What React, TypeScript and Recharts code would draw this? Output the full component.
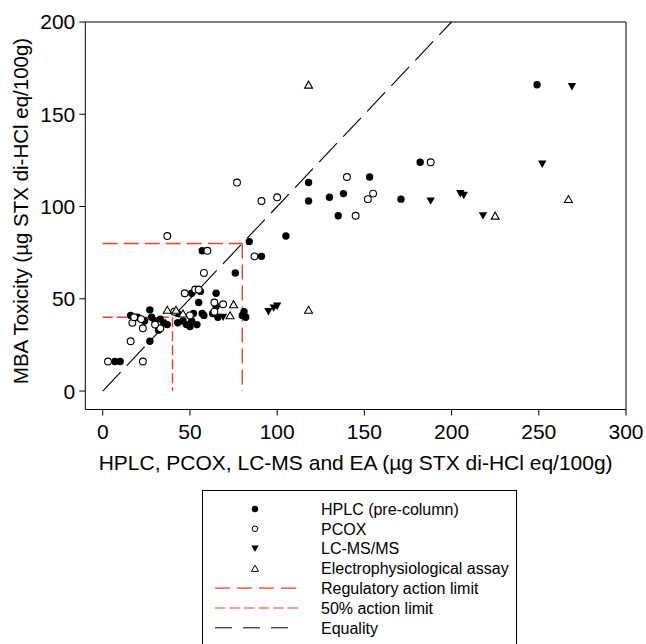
import React from 'react';
import { ScatterChart, Scatter, XAxis, YAxis, ReferenceLine } from 'recharts';

// ---- data ----
const hplcPreColumn = [
  { x: 7, y: 16 }, { x: 10, y: 16 }, { x: 27, y: 27 }, { x: 16, y: 41 }, { x: 20, y: 40 },
  { x: 27, y: 44 }, { x: 24, y: 38 }, { x: 28, y: 40 }, { x: 30, y: 38 }, { x: 33, y: 39 },
  { x: 35, y: 37 }, { x: 32, y: 33 }, { x: 37, y: 36 }, { x: 43, y: 42 }, { x: 43, y: 37 },
  { x: 46, y: 38 }, { x: 48, y: 36 }, { x: 50, y: 35 }, { x: 51, y: 38 }, { x: 52, y: 42 },
  { x: 51, y: 53 }, { x: 54, y: 36 }, { x: 55, y: 48 }, { x: 56, y: 54 }, { x: 57, y: 76 },
  { x: 57, y: 42 }, { x: 58, y: 41 }, { x: 65, y: 53 }, { x: 65, y: 46 }, { x: 63, y: 42 },
  { x: 66, y: 40 }, { x: 76, y: 64 }, { x: 81, y: 43 }, { x: 82, y: 40 }, { x: 80, y: 41 },
  { x: 84, y: 81 }, { x: 91, y: 73 }, { x: 105, y: 84 }, { x: 118, y: 113 }, { x: 118, y: 103 },
  { x: 130, y: 105 }, { x: 138, y: 107 }, { x: 135, y: 95 }, { x: 153, y: 116 }, { x: 171, y: 104 },
  { x: 182, y: 124 }, { x: 249, y: 166 },
];
const pcox = [
  { x: 3, y: 16 }, { x: 23, y: 16 }, { x: 16, y: 27 }, { x: 23, y: 34 }, { x: 33, y: 34 },
  { x: 17, y: 37 }, { x: 18, y: 40 }, { x: 22, y: 39 }, { x: 30, y: 36 }, { x: 41, y: 43 },
  { x: 47, y: 53 }, { x: 50, y: 41 }, { x: 53, y: 55 }, { x: 55, y: 55 }, { x: 58, y: 64 },
  { x: 60, y: 76 }, { x: 37, y: 84 }, { x: 64, y: 48 }, { x: 64, y: 43 }, { x: 69, y: 47 },
  { x: 77, y: 113 }, { x: 87, y: 73 }, { x: 91, y: 103 }, { x: 100, y: 105 }, { x: 140, y: 116 },
  { x: 152, y: 104 }, { x: 155, y: 107 }, { x: 145, y: 95 }, { x: 188, y: 124 },
];
const lcmsms = [
  { x: 69, y: 40 }, { x: 95, y: 43 }, { x: 98, y: 45 }, { x: 100, y: 46 }, { x: 188, y: 103 },
  { x: 205, y: 107 }, { x: 207, y: 106 }, { x: 218, y: 95 }, { x: 252, y: 123 }, { x: 269, y: 165 },
];
const electroAssay = [
  { x: 37, y: 44 }, { x: 42, y: 44 }, { x: 46, y: 42 }, { x: 73, y: 41 }, { x: 75, y: 47 },
  { x: 118, y: 44 }, { x: 118, y: 166 }, { x: 225, y: 95 }, { x: 267, y: 104 },
];
const equalityLine = [{ x: 0, y: 0 }, { x: 200, y: 200 }];
const regulatoryLimitH = [{ x: 0, y: 80 }, { x: 80, y: 80 }];
const regulatoryLimitV = [{ x: 80, y: 80 }, { x: 80, y: 0 }];
const halfLimitH = [{ x: 0, y: 40 }, { x: 40, y: 40 }];
const halfLimitV = [{ x: 40, y: 40 }, { x: 40, y: 0 }];
const xTicks = [0, 50, 100, 150, 200, 250, 300];
const yTicks = [0, 50, 100, 150, 200];
const legendLabels = [
  'HPLC (pre-column)', 'PCOX', 'LC-MS/MS', 'Electrophysiological assay',
  'Regulatory action limit', '50% action limit', 'Equality',
];

const FONT = '"Liberation Sans", Arial, Helvetica, sans-serif';
const RED = '#e8412f';

const FilledCircle = (p: any) => <circle cx={p.cx} cy={p.cy} r={3.7} fill="#000" />;
const OpenCircle = (p: any) => (
  <circle cx={p.cx} cy={p.cy} r={3.4} fill="#fff" stroke="#000" strokeWidth={1.1} />
);
const TriDown = (p: any) => (
  <path d={`M${p.cx - 4.2},${p.cy - 3.6}L${p.cx + 4.2},${p.cy - 3.6}L${p.cx},${p.cy + 3.8}Z`} fill="#000" />
);
const TriUp = (p: any) => (
  <path d={`M${p.cx - 4},${p.cy + 3.4}L${p.cx + 4},${p.cy + 3.4}L${p.cx},${p.cy - 3.6}Z`} fill="#fff" stroke="#000" strokeWidth={1.1} />
);

const Legend = () => {
  const rowY = (i: number) => 19 + i * 19.8;
  const sx = 53;
  return (
    <div style={{ position: 'absolute', left: 194, top: 482, width: 315, height: 160, border: '1px solid #000', boxSizing: 'border-box', background: '#fff', overflow: 'hidden' }}>
      <svg width={315} height={160} style={{ position: 'absolute', left: -1, top: -1 }}>
        <circle cx={sx} cy={rowY(0)} r={3.2} fill="#000" />
        <circle cx={sx} cy={rowY(1)} r={2.8} fill="#fff" stroke="#000" strokeWidth={1} />
        <path d={`M${sx - 3.6},${rowY(2) - 3}L${sx + 3.6},${rowY(2) - 3}L${sx},${rowY(2) + 3.4}Z`} fill="#000" />
        <path d={`M${sx - 3.6},${rowY(3) + 3}L${sx + 3.6},${rowY(3) + 3}L${sx},${rowY(3) - 3.2}Z`} fill="#fff" stroke="#000" strokeWidth={1} />
        <line x1={13} x2={95} y1={rowY(4)} y2={rowY(4)} stroke={RED} strokeWidth={1.2} strokeDasharray="15 7" />
        <line x1={13} x2={99} y1={rowY(5)} y2={rowY(5)} stroke={RED} strokeWidth={1.2} strokeDasharray="10.5 4" />
        <line x1={13} x2={92} y1={rowY(6)} y2={rowY(6)} stroke="#000" strokeWidth={1} strokeDasharray="17 11" />
        {legendLabels.map((t, i) => (
          <text key={t} x={119} y={rowY(i)} dy="0.36em" fontSize={16} fontFamily={FONT} fill="#000">{t}</text>
        ))}
      </svg>
    </div>
  );
};

export default function App() {
  return (
    <div style={{ position: 'absolute', left: 8, top: 8, width: 638, height: 636, overflow: 'hidden', fontFamily: FONT }}>
      <ScatterChart width={638} height={470} margin={{ top: 14, right: 20, left: 17.3, bottom: 3.5 }} style={{ overflow: 'visible' }}>
        <XAxis
          type="number" dataKey="x" domain={[-10, 300]} ticks={xTicks} allowDataOverflow
          height={65} tickSize={6} tickMargin={9}
          tick={{ fontSize: 21, fill: '#000', fontFamily: FONT }}
          axisLine={{ stroke: '#000', strokeWidth: 1 }} tickLine={{ stroke: '#000' }}
          label={{ value: 'HPLC, PCOX, LC-MS and EA (µg STX di-HCl eq/100g)', position: 'insideBottom', offset: 5, style: { fontSize: 21, fill: '#000', fontFamily: FONT } }}
        />
        <YAxis
          type="number" dataKey="y" domain={[-10, 200]} ticks={yTicks} allowDataOverflow
          width={60} tickSize={6} tickMargin={4}
          tick={{ fontSize: 21, fill: '#000', fontFamily: FONT }}
          axisLine={{ stroke: '#000', strokeWidth: 1 }} tickLine={{ stroke: '#000' }}
          label={{
            content: () => (
              <text x={0} y={0} transform="translate(19.5,203) rotate(-90)" textAnchor="middle" fontSize={20.5} fontFamily={FONT} fill="#000">
                MBA Toxicity (µg STX di-HCl eq/100g)
              </text>
            ),
          }}
        />
        <ReferenceLine y={200} stroke="#000" strokeWidth={1} />
        <ReferenceLine x={300} stroke="#000" strokeWidth={1} />
        <ReferenceLine segment={regulatoryLimitH} stroke={RED} strokeWidth={1.4} strokeDasharray="15 6" />
        <ReferenceLine segment={regulatoryLimitV} stroke={RED} strokeWidth={1.4} strokeDasharray="15 6" />
        <ReferenceLine segment={halfLimitH} stroke={RED} strokeWidth={1.4} strokeDasharray="10 4" />
        <ReferenceLine segment={halfLimitV} stroke={RED} strokeWidth={1.4} strokeDasharray="10 4" />
        <ReferenceLine segment={equalityLine} stroke="#000" strokeWidth={1.1} strokeDasharray="26 9" />
        <Scatter data={hplcPreColumn} shape={FilledCircle} isAnimationActive={false} />
        <Scatter data={pcox} shape={OpenCircle} isAnimationActive={false} />
        <Scatter data={lcmsms} shape={TriDown} isAnimationActive={false} />
        <Scatter data={electroAssay} shape={TriUp} isAnimationActive={false} />
      </ScatterChart>
      <Legend />
    </div>
  );
}
